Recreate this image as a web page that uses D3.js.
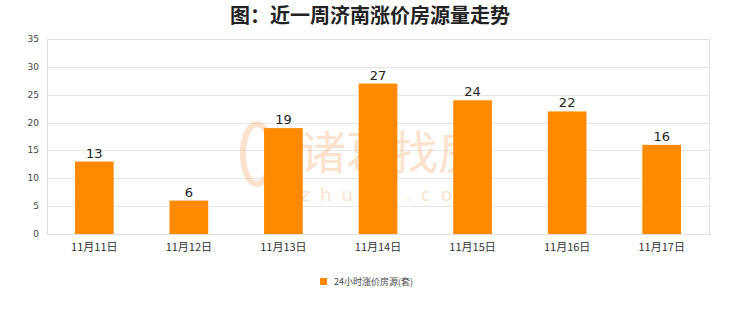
<!DOCTYPE html>
<html><head><meta charset="utf-8">
<script src="https://cdn.jsdelivr.net/npm/d3@7"></script>
<style>body{margin:0;background:#fff}svg{display:block}</style>
</head><body>
<script>
const categories = ["11月11日","11月12日","11月13日","11月14日","11月15日","11月16日","11月17日"];
const values = [13, 6, 19, 27, 24, 22, 16];
const yTicks = [0,5,10,15,20,25,30,35];
const seriesName = "24小时涨价房源(套)";
const title = "图：近一周济南涨价房源量走势";

const W = 740, H = 312;
const m = {left:47, right:31, top:39, bottom:78};
const svg = d3.select("body").append("svg").attr("width", W).attr("height", H);

const x = d3.scaleBand().domain(categories).range([m.left, W - m.right]).paddingInner(0).paddingOuter(0);
const y = d3.scaleLinear().domain([0, 35]).range([H - m.bottom, m.top]);

svg.append("text").attr("x", 370).attr("y", 23).attr("text-anchor","middle")
  .attr("font-family","'Noto Sans CJK SC', sans-serif").attr("font-weight","bold")
  .attr("font-size", 20).attr("fill","#222").text(title);

// grid
svg.append("g").selectAll("line").data(yTicks).join("line")
  .attr("x1", m.left).attr("x2", W - m.right)
  .attr("y1", d => Math.round(y(d)) + 0.5).attr("y2", d => Math.round(y(d)) + 0.5)
  .attr("stroke", "#e6e6e6");
// frame
svg.append("rect").attr("x", m.left + 0.5).attr("y", Math.round(y(35)) + 0.5)
  .attr("width", W - m.right - m.left).attr("height", Math.round(y(0)) - Math.round(y(35)))
  .attr("fill","none").attr("stroke","#e0e0e0");

// y labels
svg.append("g").selectAll("text").data(yTicks).join("text")
  .attr("x", m.left - 8).attr("y", d => y(d) + 3).attr("text-anchor","end")
  .attr("font-family","'DejaVu Sans', sans-serif").attr("font-size", 9).attr("fill","#444")
  .text(d => d);

// watermark
const wm = svg.append("g").attr("opacity", 0.33);
wm.append("text").attr("x", 392).attr("y", 169).attr("text-anchor","middle")
  .attr("font-family","'Noto Sans CJK SC', sans-serif").attr("font-size", 46)
  .attr("fill","#f0a868").text("诸葛找房");
wm.append("text").attr("x", 395).attr("y", 201).attr("text-anchor","middle")
  .attr("font-family","'DejaVu Sans', sans-serif").attr("font-size", 18).attr("letter-spacing", 10)
  .attr("fill","#f0a868").text("zhuge.com");
wm.append("ellipse").attr("cx", 257).attr("cy", 154).attr("rx", 14).attr("ry", 30)
  .attr("fill","none").attr("stroke","#f0a868").attr("stroke-width", 6);

// bars
const bw = 38.7;
svg.append("g").selectAll("rect").data(values).join("rect")
  .attr("x", (d,i) => x(categories[i]) + x.bandwidth()/2 - bw/2)
  .attr("width", bw)
  .attr("y", d => y(d)).attr("height", d => y(0) - y(d))
  .attr("fill", "#ff8a00");

// value labels
svg.append("g").selectAll("text").data(values).join("text")
  .attr("x", (d,i) => x(categories[i]) + x.bandwidth()/2)
  .attr("y", d => y(d) - 4).attr("text-anchor","middle")
  .attr("font-family","'DejaVu Sans', sans-serif").attr("font-size", 13).attr("fill","#222")
  .text(d => d);

// x labels
svg.append("g").selectAll("text").data(categories).join("text")
  .attr("x", d => x(d) + x.bandwidth()/2).attr("y", y(0) + 17).attr("text-anchor","middle")
  .attr("font-family","'Noto Sans CJK SC', serif").attr("font-size", 11).attr("fill","#333")
  .text(d => d);

// legend
svg.append("rect").attr("x", 320).attr("y", 278).attr("width", 7).attr("height", 7).attr("fill","#ff8a00");
svg.append("text").attr("x", 334).attr("y", 285).attr("font-family","'Noto Sans CJK SC', sans-serif")
  .attr("font-size", 9).attr("fill","#444").text(seriesName);
</script>
</body></html>
